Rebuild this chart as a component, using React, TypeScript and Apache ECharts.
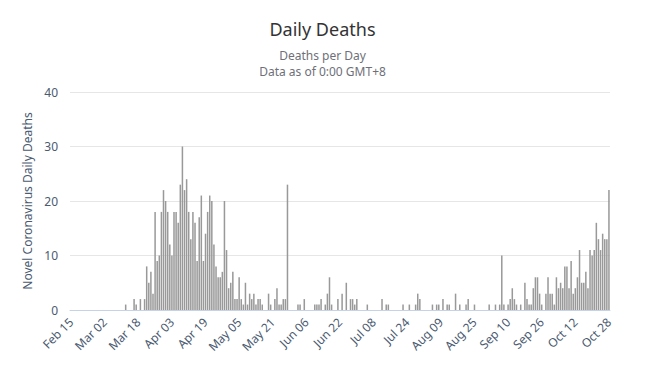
import React, { useEffect, useRef } from "react";
import * as echarts from "echarts";

const titleText = "Daily Deaths";
const subtitleText = "Deaths per Day\nData as of 0:00 GMT+8";
const yAxisName = "Novel Coronavirus Daily Deaths";
const startDate = { year: 2020, month: 1, day: 15 }; // Feb 15 (month is 0-based)
const monthNames = ["Jan", "Feb", "Mar", "Apr", "May", "Jun", "Jul", "Aug", "Sep", "Oct", "Nov", "Dec"];

const deaths = [
  0, 0, 0, 0, 0, 0, 0, 0, 0, 0, 0, 0, 0, 0, 0, 0,
  0, 0, 0, 0, 0, 0, 0, 0, 0, 0, 1, 0, 0, 0, 2, 1,
  0, 2, 0, 2, 8, 5, 7, 3, 18, 9, 10, 18, 22, 20, 18, 12,
  10, 18, 18, 16, 23, 30, 22, 24, 18, 13, 18, 16, 9, 17, 21, 9,
  14, 18, 21, 20, 12, 8, 6, 6, 7, 20, 11, 4, 5, 7, 2, 2,
  6, 2, 1, 5, 1, 3, 2, 3, 1, 2, 2, 1, 0, 0, 3, 1,
  0, 2, 4, 1, 1, 2, 2, 23, 0, 0, 0, 0, 1, 1, 0, 2,
  0, 0, 0, 0, 1, 1, 1, 2, 0, 1, 3, 6, 1, 0, 0, 2,
  0, 3, 0, 5, 0, 2, 2, 1, 2, 0, 0, 0, 0, 1, 0, 0,
  0, 0, 0, 0, 2, 0, 1, 1, 0, 0, 0, 0, 0, 0, 1, 0,
  0, 1, 0, 0, 1, 3, 2, 0, 0, 0, 0, 0, 1, 0, 1, 1,
  0, 2, 0, 1, 1, 0, 0, 3, 0, 1, 0, 0, 1, 2, 0, 0,
  1, 0, 0, 0, 0, 0, 0, 1, 0, 0, 1, 0, 1, 10, 1, 0,
  1, 2, 4, 2, 1, 0, 1, 0, 5, 2, 1, 1, 4, 6, 6, 3,
  1, 0, 3, 6, 3, 3, 1, 6, 4, 5, 4, 8, 8, 4, 9, 3,
  4, 6, 11, 5, 5, 7, 4, 11, 10, 11, 16, 13, 11, 14, 13, 13,
  22,
];

function buildDates(count: number): string[] {
  const out: string[] = [];
  for (let i = 0; i < count; i++) {
    const d = new Date(Date.UTC(startDate.year, startDate.month, startDate.day + i));
    const dd = String(d.getUTCDate()).padStart(2, "0");
    out.push(`${monthNames[d.getUTCMonth()]} ${dd}`);
  }
  return out;
}

const dates = buildDates(deaths.length);

export default function App() {
  const ref = useRef<HTMLDivElement>(null);
  useEffect(() => {
    if (!ref.current) return;
    const chart = echarts.init(ref.current, undefined, { renderer: "svg" });
    const font = "'Microsoft YaHei', 'Noto Sans', 'DejaVu Sans', sans-serif";
    chart.setOption({
      animation: false,
      textStyle: { fontFamily: font },
      title: {
        text: titleText,
        subtext: subtitleText,
        left: "center",
        top: 15,
        itemGap: 9,
        textStyle: { fontSize: 18, fontWeight: "normal", color: "#333", fontFamily: font },
        subtextStyle: { fontSize: 12, color: "#6E7079", lineHeight: 16, fontFamily: font },
      },
      grid: { left: 70, right: 35, top: 92, bottom: 63 },
      xAxis: {
        type: "category",
        data: dates,
        axisLine: { lineStyle: { color: "#c6d3e6" } },
        axisTick: { show: false },
        axisLabel: {
          interval: 15,
          rotate: 45,
          color: "#4a5a70",
          fontSize: 12,
          margin: 10,
          fontFamily: font,
        },
      },
      yAxis: {
        type: "value",
        min: 0,
        max: 40,
        interval: 10,
        name: yAxisName,
        nameLocation: "middle",
        nameGap: 37,
        nameMoveOverlap: false,
        nameTextStyle: { color: "#4a5a70", fontSize: 12, fontFamily: font },
        axisLabel: { color: "#4a5a70", fontSize: 12, margin: 12, fontFamily: font },
        splitLine: { lineStyle: { color: "#e6e6e6" } },
      },
      series: [
        {
          type: "bar",
          data: deaths,
          barCategoryGap: "28%",
          itemStyle: { color: "#999999" },
        },
      ],
    });
    return () => chart.dispose();
  }, []);
  return <div ref={ref} style={{ width: 645, height: 373, margin: -8 }} />;
}
